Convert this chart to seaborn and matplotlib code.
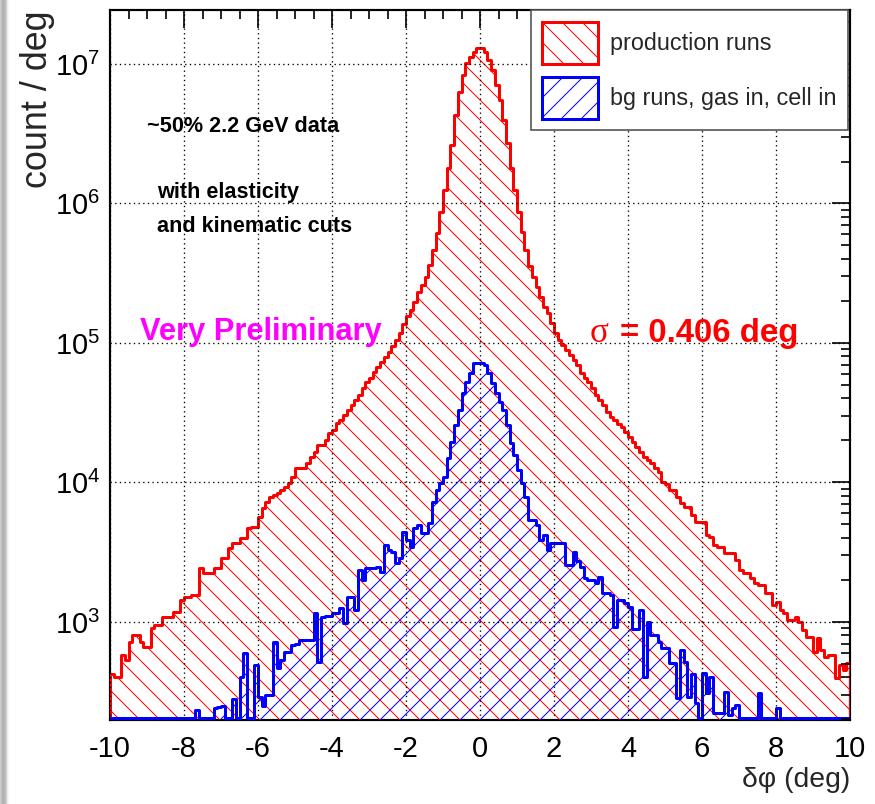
import numpy as np
import matplotlib
matplotlib.use("Agg")
import matplotlib.pyplot as plt
from matplotlib.patches import Patch
from matplotlib.ticker import MultipleLocator, LogLocator, NullFormatter
import seaborn as sns

# ---------------- data ----------------
BIN_LOW, BIN_HIGH, N_BINS = -10.0, 10.0, 200

production_counts = [
    420, 400, 400, 580, 535, 720, 807, 807, 720, 662,
    662, 906, 951, 951, 1090, 1090, 1090, 1180, 1180, 1440,
    1510, 1510, 1560, 1560, 2440, 2240, 2240, 2240, 2440, 2440,
    2880, 2880, 3390, 3680, 3680, 4000, 4000, 4720, 4800, 4800,
    5660, 6560, 7240, 7870, 8130, 8410, 8830, 9290, 9910, 10900,
    12700, 12700, 12700, 13800, 15200, 16600, 18600, 18600, 20200, 22600,
    23800, 26700, 28100, 30500, 33100, 36000, 39000, 42400, 47500, 52500,
    56100, 61900, 67300, 73100, 79400, 86100, 95100, 105000, 118000, 137000,
    156000, 172000, 197000, 232000, 261000, 297000, 362000, 464000, 615000, 869000,
    1250000, 1800000, 2620000, 4310000, 6300000, 8340000, 10200000, 11200000, 12200000, 13000000,
    13000000, 12200000, 10700000, 9060000, 7070000, 5520000, 3970000, 2720000, 1800000, 1250000,
    869000, 625000, 464000, 356000, 297000, 252000, 214000, 181000, 164000, 139000,
    118000, 105000, 96800, 89100, 82000, 75500, 69500, 61000, 56100, 52500,
    47500, 42400, 39000, 36000, 32000, 29500, 28100, 26300, 25000, 23000,
    21200, 19500, 17900, 16600, 15200, 14500, 13800, 12700, 11900, 10100,
    9750, 8830, 8830, 7870, 7130, 6670, 6670, 5840, 5210, 5210,
    5210, 4200, 4070, 3560, 3450, 3450, 3130, 3130, 3130, 2780,
    2360, 2240, 2240, 2070, 1900, 1840, 1840, 1610, 1610, 1320,
    1390, 1220, 1160, 1030, 1030, 1090, 1000, 877, 780, 780,
    610, 767, 630, 561, 580, 580, 397, 492, 453, 508,
]

background_counts = [
    0, 0, 0, 0, 0, 0, 0, 0, 0, 0,
    0, 0, 0, 0, 0, 0, 0, 0, 0, 0,
    0, 0, 0, 235, 0, 0, 0, 0, 240, 245,
    250, 0, 0, 280, 0, 400, 600, 0, 0, 490,
    290, 250, 300, 300, 720, 470, 535, 610, 610, 680,
    700, 745, 745, 745, 745, 1160, 520, 1090, 1100, 1100,
    1160, 1160, 1260, 985, 1520, 1520, 1220, 2360, 2000, 2440,
    2440, 2440, 2480, 2270, 3570, 3300, 3180, 2650, 2860, 4420,
    3870, 3440, 4700, 4940, 4370, 4370, 5100, 7240, 8800, 9900,
    11000, 15000, 19500, 25800, 33100, 43800, 52500, 61000, 72000, 72000,
    72000, 70000, 61000, 51700, 43800, 38000, 33100, 25800, 19200, 15700,
    12300, 9900, 7870, 5380, 5380, 4940, 3870, 4200, 3280, 3700,
    3700, 3700, 3700, 2560, 2560, 3180, 2750, 2480, 2070, 2000,
    2000, 1890, 2100, 1610, 1610, 1570, 920, 1440, 1440, 1370,
    1270, 890, 890, 1220, 404, 1000, 807, 807, 720, 652,
    652, 508, 508, 285, 630, 520, 290, 420, 260, 0,
    430, 310, 404, 223, 223, 223, 315, 215, 240, 254,
    0, 0, 0, 0, 0, 310, 0, 0, 0, 0,
    240, 0, 0, 0, 0, 0, 0, 0, 0, 0,
    0, 0, 0, 0, 0, 0, 0, 0, 0, 0,
]

series_labels = ["production runs", "bg runs, gas in, cell in"]
series_colors = ["#FF0000", "#0000FF"]
series_hatches = ["\\\\", "//"]
x_ticks = [-10, -8, -6, -4, -2, 0, 2, 4, 6, 8, 10]
y_decades = [1e3, 1e4, 1e5, 1e6, 1e7]
Y_MIN, Y_MAX = 198.0, 2.44e7
# empty bins are drawn along the bottom of the frame, as ROOT does on a log axis
EMPTY_BIN_LEVEL = 205.0

# ---------------- style ----------------
sns.set_theme(style="white")
plt.rcParams["font.family"] = ["Liberation Sans", "DejaVu Sans"]
plt.rcParams["mathtext.fontset"] = "custom"
plt.rcParams["mathtext.rm"] = "Liberation Sans"
plt.rcParams["mathtext.it"] = "Liberation Sans:italic"
plt.rcParams["mathtext.bf"] = "Liberation Sans:bold"
plt.rcParams["axes.unicode_minus"] = False
plt.rcParams["hatch.linewidth"] = 0.6

DPI = 120
W, H = 875, 804
fig = plt.figure(figsize=(W / DPI, H / DPI), dpi=DPI)
fig.patch.set_facecolor("white")

# grey screenshot strip at the left edge
strip = fig.add_axes([0, 0, 10 / W, 1])
strip.imshow(np.array([[0.80, 0.72, 0.68, 0.72, 0.82, 0.93, 1.0]]), cmap="gray",
             vmin=0, vmax=1, aspect="auto", extent=(0, 1, 0, 1))
strip.axis("off")

ax = fig.add_axes([110 / W, (H - 720) / H, 740 / W, 710 / H])
ax.set_yscale("log")

edges = np.linspace(BIN_LOW, BIN_HIGH, N_BINS + 1)
centers = 0.5 * (edges[:-1] + edges[1:])

for counts, color, hatch in zip([production_counts, background_counts],
                                series_colors, series_hatches):
    shown = np.maximum(np.asarray(counts, dtype=float), EMPTY_BIN_LEVEL)
    sns.histplot(x=centers, weights=shown, bins=edges.tolist(), element="step",
                 fill=True, color=color, facecolor="none", edgecolor=color,
                 hatch=hatch, linewidth=1.8, ax=ax)

ax.set_xlim(BIN_LOW, BIN_HIGH)
ax.set_ylim(Y_MIN, Y_MAX)

ax.set_xticks(x_ticks)
ax.xaxis.set_minor_locator(MultipleLocator(0.5))
ax.yaxis.set_major_locator(LogLocator(base=10, numticks=20))
ax.yaxis.set_minor_locator(LogLocator(base=10, subs=np.arange(2, 10), numticks=20))
ax.yaxis.set_minor_formatter(NullFormatter())
ax.tick_params(which="both", direction="in", top=True, right=True,
               width=1.0, color="black", labelcolor="black")
ax.tick_params(which="major", length=11)
ax.tick_params(which="minor", length=5.5)
ax.tick_params(axis="x", labelsize=17.5, pad=9)
ax.tick_params(axis="y", labelsize=17.5, pad=6)

ax.grid(True, which="major", axis="both", color="black",
        linestyle=(0, (1, 2.5)), linewidth=0.8)
ax.set_axisbelow(False)
for s in ax.spines.values():
    s.set_color("black")
    s.set_linewidth(1.3)
    s.set_zorder(0.8)

ax.set_ylabel("count / deg", fontsize=21.5, loc="top")
ax.yaxis.set_label_coords(-0.074, 1.0)
ax.set_xlabel("δφ (deg)", fontsize=17, loc="right")
ax.xaxis.set_label_coords(1.0, -0.066)

# annotations
ax.text(-9.0, 3.26e6, "~50% 2.2 GeV data", fontsize=13, fontweight="bold",
        va="baseline", color="black")
ax.text(-8.73, 1.09e6, "with elasticity", fontsize=13, fontweight="bold",
        va="baseline", color="black")
ax.text(-8.73, 6.25e5, "and kinematic cuts", fontsize=13, fontweight="bold",
        va="baseline", color="black")
ax.text(-9.19, 1.05e5, "Very Preliminary", fontsize=18.5, fontweight="bold",
        va="baseline", color="#FF00FF")
ax.text(2.97, 1.02e5, "σ", fontsize=21, va="baseline", color="#FF0000",
        family=["Liberation Serif", "DejaVu Serif"])
ax.text(3.78, 1.02e5, "= 0.406 deg", fontsize=19.8, fontweight="bold",
        va="baseline", color="#FF0000")

# legend
handles = [Patch(facecolor="white", edgecolor=c, hatch=h, linewidth=1.8)
           for c, h in zip(series_colors, series_hatches)]
leg = ax.legend(handles, series_labels, loc="upper right",
                bbox_to_anchor=(1 - 2 / 740, 1.0), borderaxespad=0,
                fontsize=14, frameon=True, fancybox=False, framealpha=1,
                edgecolor="#555555", handlelength=2.4, handleheight=2.4,
                handletextpad=0.5, borderpad=0.5, labelspacing=0.55)
leg.get_frame().set_linewidth(1.0)

fig.savefig("out.png", dpi=DPI, facecolor="white")
